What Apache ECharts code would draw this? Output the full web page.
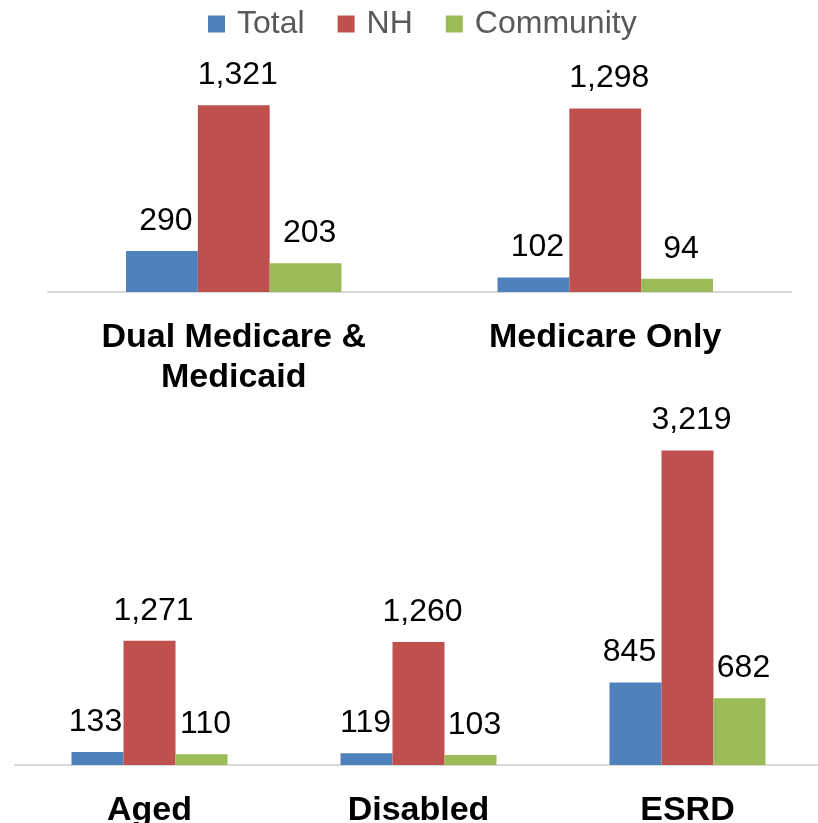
<!DOCTYPE html>
<html>
<head>
<meta charset="utf-8">
<title>Total, NH and Community by group</title>
<script src="https://cdn.jsdelivr.net/npm/echarts@6/dist/echarts.min.js"></script>
<style>
  html, body { margin: 0; padding: 0; background: #ffffff; }
  #chart { width: 818px; height: 823px; }
</style>
</head>
<body>
<div id="chart"></div>
<script>
// Upper panel: enrollment groups
var topCategories = ['Dual Medicare &\nMedicaid', 'Medicare Only'];
var topTotal = [290, 102];
var topNH = [1321, 1298];
var topCommunity = [203, 94];

// Lower panel: entitlement groups
var bottomCategories = ['Aged', 'Disabled', 'ESRD'];
var bottomTotal = [133, 119, 845];
var bottomNH = [1271, 1260, 3219];
var bottomCommunity = [110, 103, 682];

var seriesNames = ['Total', 'NH', 'Community'];
var seriesColors = ['#4f81bd', '#c0504d', '#9bbb59'];

var FONT = '"Liberation Sans", Arial, sans-serif';

function fmt(p) {
  return Number(p.value).toLocaleString('en-US');
}

// labelShifts: horizontal nudge of each value label, so that narrow
// bars keep their label clear of the neighbouring NH bar
function barSeries(name, color, data, idx, labelShifts) {
  return {
    name: name,
    type: 'bar',
    xAxisIndex: idx,
    yAxisIndex: idx,
    data: data.map(function (v, i) {
      var item = { value: v };
      if (labelShifts) item.label = { offset: [labelShifts[i], 0] };
      return item;
    }),
    barGap: '0%',
    barCategoryGap: '42%',
    itemStyle: { color: color },
    label: {
      show: true,
      position: 'top',
      distance: 14,
      offset: [4, 0],
      formatter: fmt,
      color: '#000000',
      fontFamily: FONT,
      fontSize: 32
    },
    emphasis: { disabled: true },
    animation: false
  };
}

function catAxis(data, idx) {
  return {
    type: 'category',
    gridIndex: idx,
    data: data,
    axisLine: { show: true, lineStyle: { color: '#d9d9d9', width: 2 } },
    axisTick: { show: false },
    axisLabel: {
      interval: 0,
      margin: 26,
      color: '#000000',
      fontFamily: FONT,
      fontSize: 34,
      fontWeight: 'bold',
      lineHeight: 40
    }
  };
}

function valAxis(idx, max) {
  return {
    type: 'value',
    gridIndex: idx,
    min: 0,
    max: max,
    show: false,
    splitLine: { show: false }
  };
}

var chart = echarts.init(document.getElementById('chart'), null, { renderer: 'canvas' });

chart.setOption({
  backgroundColor: '#ffffff',
  animation: false,
  legend: {
    data: seriesNames,
    top: 3,
    left: 203,
    itemWidth: 17,
    itemHeight: 17,
    itemGap: 33,
    icon: 'rect',
    textStyle: {
      color: '#595959',
      fontFamily: FONT,
      fontSize: 32,
      padding: [0, 0, 0, 7]
    },
    selectedMode: false
  },
  // fixed plot rectangles; the lower axis runs off the right and bottom edges
  grid: [
    { left: 48, width: 743, top: 80, height: 212, containLabel: false, outerBoundsMode: 'none' },
    { left: 15, width: 807, top: 423, height: 342, containLabel: false, outerBoundsMode: 'none' }
  ],
  xAxis: [catAxis(topCategories, 0), catAxis(bottomCategories, 1)],
  yAxis: [valAxis(0, 1500), valAxis(1, 3500)],
  series: [
    barSeries(seriesNames[0], seriesColors[0], topTotal, 0),
    barSeries(seriesNames[1], seriesColors[1], topNH, 0),
    barSeries(seriesNames[2], seriesColors[2], topCommunity, 0),
    barSeries(seriesNames[0], seriesColors[0], bottomTotal, 1, [-2, -1, -6]),
    barSeries(seriesNames[1], seriesColors[1], bottomNH, 1),
    barSeries(seriesNames[2], seriesColors[2], bottomCommunity, 1)
  ]
});
</script>
</body>
</html>
